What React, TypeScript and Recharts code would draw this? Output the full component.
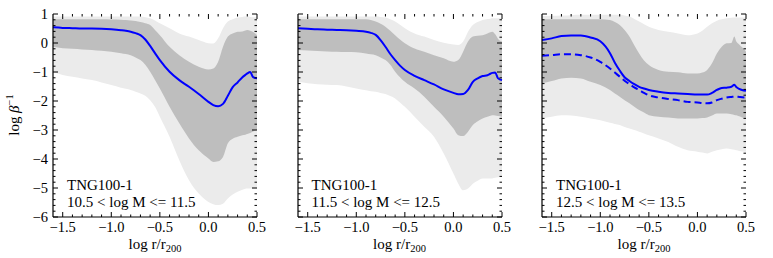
import { ComposedChart, Area, Line, XAxis, YAxis } from "recharts"

// radial bins, log r/r200
const R = [
  -1.6, -1.5, -1.4, -1.3, -1.2, -1.1, -1.0, -0.9, -0.85, -0.8, -0.75,
  -0.7, -0.65, -0.6, -0.55, -0.5, -0.4, -0.3, -0.2, -0.1, 0.0,
  0.05, 0.1, 0.15, 0.2, 0.25, 0.3, 0.35, 0.38, 0.4, 0.43, 0.46, 0.5,
]

// panel 1: 10.5 < log M <= 11.5
const P1_MED = [
  0.54, 0.52, 0.51, 0.5, 0.5, 0.49, 0.47, 0.44, 0.42, 0.39, 0.34,
  0.27, 0.12, -0.1, -0.35, -0.59, -0.99, -1.28, -1.51, -1.76, -2.03,
  -2.14, -2.18, -2.1, -1.82, -1.52, -1.36, -1.18, -1.1, -1.05, -1.0, -1.18, -1.22,
]
const P1_DHI = [
  0.82, 0.82, 0.82, 0.82, 0.82, 0.82, 0.81, 0.8, 0.79, 0.78, 0.76,
  0.72, 0.68, 0.62, 0.45, 0.27, -0.13, -0.42, -0.65, -0.82, -0.91,
  -0.88, -0.65, -0.13, 0.22, 0.33, 0.39, 0.4, 0.43, 0.45, 0.42, 0.38, 0.27,
]
const P1_DLO = [
  -0.13, -0.18, -0.2, -0.22, -0.24, -0.27, -0.3, -0.35, -0.38, -0.42, -0.5,
  -0.59, -0.75, -0.99, -1.28, -1.57, -2.2, -2.77, -3.29, -3.7, -3.98,
  -4.1, -4.08, -3.93, -3.46, -3.3, -3.23, -3.18, -3.16, -3.14, -3.1, -3.05, -3.0,
]
const P1_LHI = [
  0.91, 0.91, 0.91, 0.91, 0.91, 0.91, 0.91, 0.91, 0.91, 0.91, 0.91,
  0.91, 0.89, 0.85, 0.78, 0.68, 0.51, 0.33, 0.22, 0.1, -0.01,
  -0.02, 0.16, 0.51, 0.74, 0.82, 0.88, 0.9, 0.91, 0.91, 0.9, 0.89, 0.88,
]
const P1_LLO = [
  -0.99, -1.1, -1.16, -1.22, -1.28, -1.36, -1.45, -1.54, -1.58, -1.62, -1.68,
  -1.74, -1.82, -1.97, -2.2, -2.54, -3.23, -4.04, -4.73, -5.19, -5.48,
  -5.56, -5.59, -5.54, -5.36, -5.22, -5.13, -5.06, -5.03, -5.02, -5.02, -5.02, -5.02,
]

// panel 2: 11.5 < log M <= 12.5
const P2_MED = [
  0.51, 0.49, 0.47, 0.46, 0.45, 0.44, 0.42, 0.39, 0.35, 0.28, 0.1,
  -0.13, -0.38, -0.59, -0.78, -0.93, -1.13, -1.28, -1.43, -1.6, -1.72,
  -1.77, -1.76, -1.62, -1.34, -1.22, -1.14, -1.11, -1.06, -1.03, -1.02, -1.22, -1.28,
]
const P2_DHI = [
  0.82, 0.82, 0.82, 0.82, 0.82, 0.82, 0.82, 0.82, 0.79, 0.74, 0.66,
  0.56, 0.42, 0.27, 0.12, -0.01, -0.19, -0.3, -0.42, -0.53, -0.65,
  -0.59, -0.3, 0.05, 0.22, 0.25, 0.27, 0.33, 0.37, 0.39, 0.3, 0.14, 0.05,
]
const P2_DLO = [
  -0.24, -0.26, -0.28, -0.29, -0.3, -0.31, -0.32, -0.36, -0.39, -0.42, -0.5,
  -0.59, -0.75, -0.99, -1.18, -1.34, -1.57, -1.85, -2.2, -2.54, -2.95,
  -3.18, -3.21, -3.06, -2.83, -2.7, -2.6, -2.54, -2.51, -2.49, -2.5, -2.52, -2.54,
]
const P2_LHI = [
  0.91, 0.91, 0.91, 0.91, 0.91, 0.91, 0.91, 0.91, 0.91, 0.91, 0.9,
  0.88, 0.82, 0.74, 0.63, 0.51, 0.33, 0.22, 0.1, 0.01, -0.05,
  -0.07, 0.05, 0.39, 0.62, 0.72, 0.79, 0.83, 0.84, 0.85, 0.85, 0.85, 0.85,
]
const P2_LLO = [
  -1.34, -1.39, -1.42, -1.44, -1.45, -1.5, -1.57, -1.63, -1.66, -1.68, -1.72,
  -1.76, -1.83, -1.91, -2.05, -2.2, -2.54, -2.89, -3.23, -3.81, -4.5,
  -4.85, -5.08, -5.02, -4.85, -4.75, -4.67, -4.67, -4.67, -4.67, -4.65, -4.63, -4.62,
]

// panel 3: 12.5 < log M <= 13.5 (solid + dashed)
const P3_MED = [
  0.1, 0.16, 0.24, 0.26, 0.26, 0.19, 0.06, -0.35, -0.68, -0.95, -1.18,
  -1.31, -1.42, -1.51, -1.57, -1.62, -1.68, -1.72, -1.74, -1.76, -1.78,
  -1.78, -1.78, -1.72, -1.62, -1.55, -1.54, -1.51, -1.44, -1.52, -1.58, -1.62, -1.65,
]
const P3_DASH = [
  -0.44, -0.42, -0.39, -0.39, -0.42, -0.5, -0.65, -0.88, -1.02, -1.16, -1.3,
  -1.42, -1.53, -1.62, -1.72, -1.8, -1.88, -1.93, -1.97, -2.03, -2.05,
  -2.07, -2.08, -2.05, -1.97, -1.92, -1.88, -1.86, -1.85, -1.85, -1.86, -1.87, -1.88,
]
const P3_DHI = [
  0.82, 0.82, 0.82, 0.82, 0.82, 0.82, 0.82, 0.79, 0.72, 0.62, 0.45,
  0.22, -0.08, -0.36, -0.6, -0.76, -0.93, -0.99, -1.01, -1.05, -1.05,
  -1.02, -0.93, -0.7, -0.36, -0.13, -0.01, 0.0, 0.22, 0.05, -0.05, -0.15, -0.3,
]
const P3_DLO = [
  -1.39, -1.31, -1.22, -1.2, -1.22, -1.34, -1.45, -1.62, -1.74, -1.85, -1.97,
  -2.08, -2.2, -2.31, -2.4, -2.49, -2.54, -2.57, -2.6, -2.6, -2.6,
  -2.59, -2.57, -2.5, -2.43, -2.43, -2.43, -2.46, -2.48, -2.49, -2.53, -2.57, -2.6,
]
const P3_LHI = [
  0.93, 0.94, 0.95, 0.96, 0.97, 0.97, 0.97, 0.97, 0.97, 0.97, 0.95,
  0.91, 0.83, 0.74, 0.65, 0.56, 0.45, 0.39, 0.33, 0.27, 0.33,
  0.42, 0.56, 0.68, 0.77, 0.82, 0.85, 0.87, 0.88, 0.88, 0.88, 0.88, 0.88,
]
const P3_LLO = [
  -2.6, -2.54, -2.49, -2.5, -2.54, -2.6, -2.66, -2.75, -2.79, -2.83, -2.9,
  -2.95, -3.0, -3.06, -3.12, -3.18, -3.29, -3.41, -3.58, -3.7, -3.75,
  -3.78, -3.81, -3.75, -3.7, -3.66, -3.64, -3.66, -3.68, -3.7, -3.72, -3.74, -3.75,
]

const MASS_BINS = ["10.5 < log M <= 11.5", "11.5 < log M <= 12.5", "12.5 < log M <= 13.5"]
const SIM_LABEL = "TNG100-1"

const X_TICKS = [
  -1.5, -1.4, -1.3, -1.2, -1.1, -1.0, -0.9, -0.8, -0.7, -0.6, -0.5,
  -0.4, -0.3, -0.2, -0.1, 0, 0.1, 0.2, 0.3, 0.4, 0.5,
]
const Y_TICKS = [
  -6, -5.8, -5.6, -5.4, -5.2, -5, -4.8, -4.6, -4.4, -4.2, -4, -3.8, -3.6, -3.4, -3.2,
  -3, -2.8, -2.6, -2.4, -2.2, -2, -1.8, -1.6, -1.4, -1.2, -1, -0.8, -0.6, -0.4, -0.2,
  0, 0.2, 0.4, 0.6, 0.8, 1,
]

const FONT = "'Liberation Serif', 'Times New Roman', serif"
const PLOT_W = 204
const PLOT_H = 203
const TOP = 14
const Y_AXIS_W = 53
const X_AXIS_H = 41
const RIGHT_PAD = 16
const PANEL_LEFTS = [53, 297.5, 542]

const LIGHT = "#ebebeb"
const DARK = "#bebebe"
const BLUE = "#0000ff"

const fmt = (v: number, digits: number) =>
  (v < -1e-9 ? "\u2212" : "") + Math.abs(v).toFixed(digits)

function BottomTick(props: any) {
  const { x, y, payload } = props
  const v = Number(payload.value)
  const major = Math.abs(v * 2 - Math.round(v * 2)) < 1e-6
  const len = major ? 5 : 2.5
  return (
    <g>
      <line x1={x} x2={x} y1={y} y2={y - len} stroke="#000" strokeWidth={1} />
      <line x1={x} x2={x} y1={y - PLOT_H} y2={y - PLOT_H + len} stroke="#000" strokeWidth={1} />
      {major && (
        <text x={x} y={y + 15} textAnchor="middle" fontFamily={FONT} fontSize={14.5} fill="#000">
          {fmt(v, 1)}
        </text>
      )}
    </g>
  )
}

function LeftTick(props: any) {
  const { x, y, payload, showLabel } = props
  const v = Number(payload.value)
  const major = Math.abs(v - Math.round(v)) < 1e-6
  const len = major ? 5 : 2.5
  return (
    <g>
      <line x1={x} x2={x + len} y1={y} y2={y} stroke="#000" strokeWidth={1} />
      <line x1={x + PLOT_W} x2={x + PLOT_W - len} y1={y} y2={y} stroke="#000" strokeWidth={1} />
      {major && showLabel && (
        <text x={x - 5} y={y + 5} textAnchor="end" fontFamily={FONT} fontSize={14.5} fill="#000">
          {fmt(v, 0)}
        </text>
      )}
    </g>
  )
}

interface PanelProps {
  left: number
  med: number[]
  dash?: number[]
  dhi: number[]
  dlo: number[]
  lhi: number[]
  llo: number[]
  showYLabels: boolean
}

function Panel({ left, med, dash, dhi, dlo, lhi, llo, showYLabels }: PanelProps) {
  const rows = R.map((x, i) => ({
    x,
    med: med[i],
    dash: dash ? dash[i] : null,
    light: [llo[i], lhi[i]],
    dark: [dlo[i], dhi[i]],
  }))

  return (
    <div style={{ position: "absolute", left: left - Y_AXIS_W, top: 0 }}>
      <ComposedChart
        width={Y_AXIS_W + PLOT_W + RIGHT_PAD}
        height={258}
        data={rows}
        margin={{ top: TOP, right: RIGHT_PAD, bottom: 0, left: 0 }}
      >
        <Area
          dataKey="light"
          type="monotone"
          stroke="none"
          fill={LIGHT}
          fillOpacity={1}
          isAnimationActive={false}
        />
        <Area
          dataKey="dark"
          type="monotone"
          stroke="none"
          fill={DARK}
          fillOpacity={1}
          isAnimationActive={false}
        />
        {dash && (
          <Line
            dataKey="dash"
            type="monotone"
            stroke={BLUE}
            strokeWidth={2}
            strokeDasharray="7 4"
            dot={false}
            isAnimationActive={false}
          />
        )}
        <Line
          dataKey="med"
          type="monotone"
          stroke={BLUE}
          strokeWidth={2}
          dot={false}
          isAnimationActive={false}
        />
        <XAxis
          dataKey="x"
          type="number"
          domain={[-1.6, 0.5]}
          ticks={X_TICKS}
          interval={0}
          height={X_AXIS_H}
          tickSize={0}
          tickMargin={0}
          tickLine={false}
          axisLine={{ stroke: "#000", strokeWidth: 1.2 }}
          tick={(p: any) => <BottomTick {...p} />}
        />
        <XAxis
          xAxisId="top"
          orientation="top"
          dataKey="x"
          type="number"
          domain={[-1.6, 0.5]}
          height={0}
          tick={false}
          tickLine={false}
          axisLine={{ stroke: "#000", strokeWidth: 1.2 }}
        />
        <YAxis
          type="number"
          domain={[-6, 1]}
          ticks={Y_TICKS}
          interval={0}
          width={Y_AXIS_W}
          tickSize={0}
          tickMargin={0}
          tickLine={false}
          axisLine={{ stroke: "#000", strokeWidth: 1.2 }}
          tick={(p: any) => <LeftTick {...p} showLabel={showYLabels} />}
        />
        <YAxis
          yAxisId="right"
          orientation="right"
          type="number"
          domain={[-6, 1]}
          width={0}
          tick={false}
          tickLine={false}
          axisLine={{ stroke: "#000", strokeWidth: 1.2 }}
        />
      </ComposedChart>
    </div>
  )
}

export default function App() {
  const panels = [
    { med: P1_MED, dhi: P1_DHI, dlo: P1_DLO, lhi: P1_LHI, llo: P1_LLO },
    { med: P2_MED, dhi: P2_DHI, dlo: P2_DLO, lhi: P2_LHI, llo: P2_LLO },
    { med: P3_MED, dash: P3_DASH, dhi: P3_DHI, dlo: P3_DLO, lhi: P3_LHI, llo: P3_LLO },
  ]

  return (
    <div
      style={{
        position: "absolute",
        left: 0,
        top: 0,
        width: 773,
        height: 258,
        background: "#fff",
        overflow: "hidden",
      }}
    >
      {panels.map((p, i) => (
        <Panel key={i} left={PANEL_LEFTS[i]} {...p} showYLabels={i === 0} />
      ))}

      <svg
        width={773}
        height={258}
        style={{ position: "absolute", left: 0, top: 0, pointerEvents: "none" }}
        fontFamily={FONT}
        fill="#000"
      >
        <text transform="translate(19, 115) rotate(-90)" textAnchor="middle" fontSize={15}>
          <tspan>log </tspan>
          <tspan fontStyle="italic">β</tspan>
          <tspan dy={-6} fontSize={10.5}>−1</tspan>
        </text>
        {PANEL_LEFTS.map((l, i) => (
          <g key={i}>
            <text x={l + PLOT_W / 2} y={249} textAnchor="middle" fontSize={15}>
              <tspan>log r/r</tspan>
              <tspan dy={3} fontSize={10.5}>200</tspan>
            </text>
            <text x={l + 14} y={190} fontSize={15}>
              {SIM_LABEL}
            </text>
            <text x={l + 14} y={207} fontSize={15}>
              {MASS_BINS[i]}
            </text>
          </g>
        ))}
      </svg>
    </div>
  )
}
